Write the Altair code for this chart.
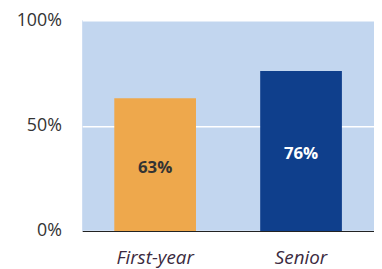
import altair as alt
import pandas as pd

categories = ["First-year", "Senior"]
values = [63, 76]
bar_colors = ["#eea84c", "#0f3f8c"]
label_colors = ["#333333", "#ffffff"]
label_texts = ["63%", "76%"]

df = pd.DataFrame({
    "cat": categories,
    "val": values,
    "half": [v / 2 for v in values],
    "txt": label_texts,
    "col": bar_colors,
    "lcol": label_colors,
})

FONT = "Open Sans"

x = alt.X("cat:N", sort=categories, title=None,
          scale=alt.Scale(paddingInner=0.44, paddingOuter=0.22),
          axis=alt.Axis(labelAngle=0, labelFont=FONT, labelFontSize=19,
                        labelFontStyle="italic", labelColor="#3b2a40",
                        labelPadding=18, ticks=False, domainColor="#222222",
                        domainWidth=1.2, grid=False))
y = alt.Y("val:Q", title=None,
          scale=alt.Scale(domain=[0, 100]),
          axis=alt.Axis(values=[0, 50, 100], labelExpr="datum.value + '%'",
                        labelFont=FONT, labelFontSize=18, labelColor="#333333",
                        labelPadding=21, ticks=False, domain=False,
                        grid=True, gridColor="#ffffff", gridWidth=1.5))

bars = alt.Chart(df).mark_bar().encode(
    x=x, y=y, color=alt.Color("col:N", scale=None)
)

labels = alt.Chart(df).mark_text(font=FONT, fontSize=17, fontWeight="bold", dy=3).encode(
    x=alt.X("cat:N", sort=categories),
    y=alt.Y("half:Q"),
    text="txt:N",
    color=alt.Color("lcol:N", scale=None),
)

chart = (bars + labels).properties(
    width=295, height=213,
    background="#ffffff",
    autosize=alt.AutoSizeParams(type="none"),
    padding={"left": 75, "top": 11, "right": 0, "bottom": 45},
).configure_view(fill="#c2d6ef", stroke=None)

chart.save("out.html", embed_options={"renderer": "svg", "actions": False})
